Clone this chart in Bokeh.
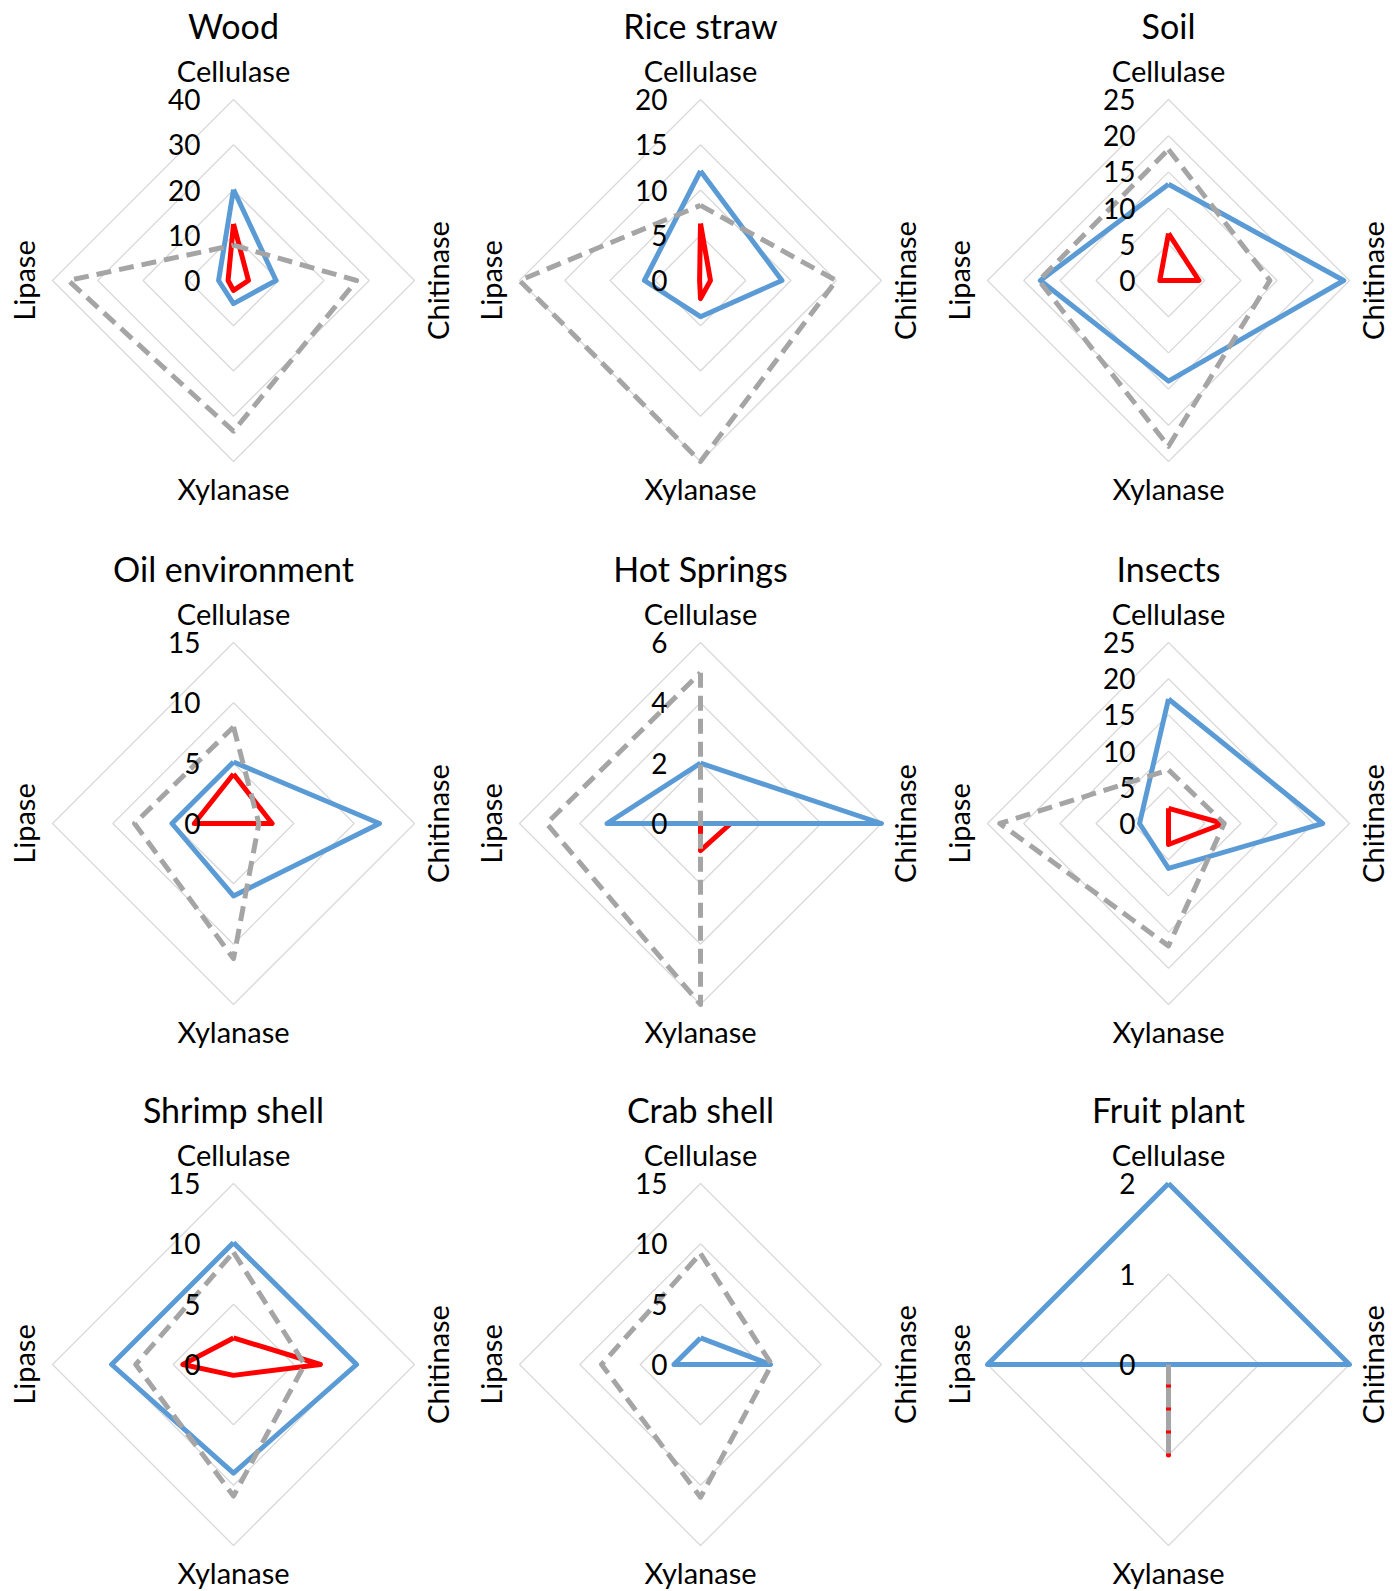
import math
from bokeh.plotting import figure
from bokeh.models import Range1d, ColumnDataSource
from bokeh.core.properties import value
from bokeh.embed import file_html
from bokeh.resources import INLINE

# ---------------- data ----------------
categories = ["Cellulase", "Chitinase", "Xylanase", "Lipase"]
panel_titles = ["Wood", "Rice straw", "Soil",
                "Oil environment", "Hot Springs", "Insects",
                "Shrimp shell", "Crab shell", "Fruit plant"]
axis_max = [40, 20, 25, 15, 6, 25, 15, 15, 2]
axis_step = [10, 5, 5, 5, 2, 5, 5, 5, 1]

# values per panel in category order: Cellulase, Chitinase, Xylanase, Lipase
blue_series = [
    [20.1, 9.4, 5.1, 3.3],
    [12.1, 9.0, 4.0, 6.2],
    [13.3, 24.2, 13.9, 17.7],
    [5.1, 12.1, 6.0, 5.1],
    [2.0, 6.0, 0.0, 3.1],
    [17.2, 21.3, 6.2, 4.0],
    [10.1, 10.2, 9.0, 10.1],
    [2.2, 5.8, 0.0, 2.2],
    [2.0, 2.0, 0.0, 2.0],
]
red_series = [
    [12.5, 3.3, 2.2, 1.2],
    [6.3, 1.1, 2.0, 0.1],
    [6.5, 4.2, 0.0, 1.2],
    [4.1, 3.2, 0.0, 3.25],
    [0.0, 1.0, 0.9, 0.0],
    [2.1, 7.6, 2.9, 0.0],
    [2.2, 7.2, 0.9, 4.2],
    [0.0, 0.0, 0.0, 0.0],
    [0.0, 0.0, 1.0, 0.0],
]
gray_series = [
    [7.8, 27.2, 33.3, 36.5],
    [8.3, 15.0, 20.0, 20.0],
    [18.1, 14.0, 22.9, 17.9],
    [8.0, 2.1, 11.2, 8.2],
    [5.0, 0.0, 6.0, 5.1],
    [7.4, 7.7, 16.9, 23.3],
    [9.3, 5.9, 10.9, 8.1],
    [9.2, 5.9, 11.0, 8.2],
    [0.0, 0.0, 1.0, 0.0],
]

# ---------------- layout / style ----------------
col_cx = [233, 700, 1168]
row_cy = [280, 823, 1364]
R = 181
FONT = "Lato"
BLUE = "#5B9BD5"
RED = "#FF0000"
GRAY = "#A5A5A5"
GRID = "#D9D9D9"

W, H = 1400, 1591
p = figure(width=W, height=H, output_backend="svg", toolbar_location=None,
           x_range=Range1d(0, W), y_range=Range1d(H, 0),
           x_axis_type=None, y_axis_type=None, min_border=0,
           outline_line_color=None, background_fill_color="white")
p.grid.visible = False

angles = [0.0, 90.0, 180.0, 270.0]  # clockwise from top


def to_xy(cx, cy, vals, vmax):
    xs, ys = [], []
    for v, a in zip(vals, angles):
        d = v / vmax * R
        xs.append(cx + d * math.sin(math.radians(a)))
        ys.append(cy - d * math.cos(math.radians(a)))
    xs.append(xs[0])
    ys.append(ys[0])
    return xs, ys


title_src = dict(x=[], y=[], text=[])
cat_h = dict(x=[], y=[], text=[])
cat_v = dict(x=[], y=[], text=[])
tick_src = dict(x=[], y=[], text=[])

for i, name in enumerate(panel_titles):
    cx = col_cx[i % 3]
    cy = row_cy[i // 3]
    vmax = axis_max[i]
    step = axis_step[i]
    n = int(round(vmax / step))
    # ring gridlines
    for k in range(1, n + 1):
        v = k * step
        xs, ys = to_xy(cx, cy, [v] * 4, vmax)
        p.line(xs, ys, line_color=GRID, line_width=1.3)
    # series
    xs, ys = to_xy(cx, cy, red_series[i], vmax)
    p.line(xs, ys, line_color=RED, line_width=5, line_join="round")
    xs, ys = to_xy(cx, cy, blue_series[i], vmax)
    p.line(xs, ys, line_color=BLUE, line_width=5, line_join="round")
    xs, ys = to_xy(cx, cy, gray_series[i], vmax)
    p.line(xs, ys, line_color=GRAY, line_width=5, line_dash="15 8", line_join="round")
    # texts
    title_src["x"].append(cx)
    title_src["y"].append(cy - 255)
    title_src["text"].append(name)
    cat_h["x"] += [cx, cx]
    cat_h["y"] += [cy - 210, cy + 208]
    cat_h["text"] += [categories[0], categories[2]]
    cat_v["x"] += [cx + 204, cx - 210]
    cat_v["y"] += [cy, cy]
    cat_v["text"] += [categories[1], categories[3]]
    for k in range(0, n + 1):
        v = k * step
        tick_src["x"].append(cx - 33)
        tick_src["y"].append(cy - v / vmax * R)
        tick_src["text"].append(str(v))

p.text(x="x", y="y", text="text", source=ColumnDataSource(title_src),
       text_font=value(FONT), text_font_size="34px", text_align="center",
       text_baseline="middle", text_color="black")
p.text(x="x", y="y", text="text", source=ColumnDataSource(cat_h),
       text_font=value(FONT), text_font_size="29px", text_align="center",
       text_baseline="middle", text_color="black")
p.text(x="x", y="y", text="text", source=ColumnDataSource(cat_v),
       text_font=value(FONT), text_font_size="29px", text_align="center",
       text_baseline="middle", text_color="black", angle=math.pi / 2)
p.text(x="x", y="y", text="text", source=ColumnDataSource(tick_src),
       text_font=value(FONT), text_font_size="28px", text_align="right",
       text_baseline="middle", text_color="black")

open("out.html", "w").write(file_html(p, INLINE))
